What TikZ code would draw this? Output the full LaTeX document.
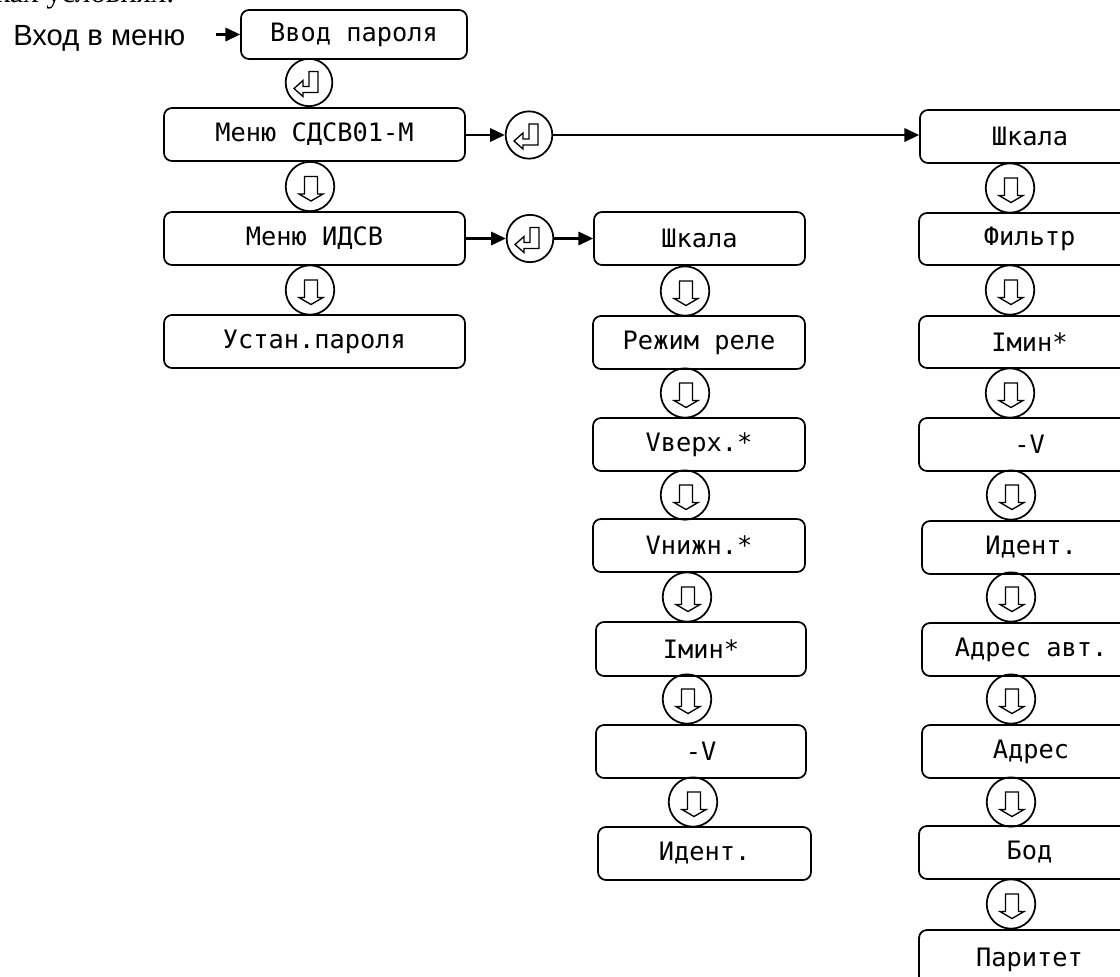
\documentclass[tikz,border=0pt]{standalone}
\usepackage{fontspec}
\setmainfont{Liberation Sans}
\newfontfamily\serifpart{Liberation Serif}
\newfontfamily\monopart{DejaVu Sans Mono}
\usetikzlibrary{arrows.meta, calc, shapes.geometric}

\tikzset{
  menubox/.style={draw, line width=1.3pt, rounded corners=6pt, inner sep=0pt, font=\monopart\fontsize{19}{20}\selectfont},
  keyring/.style={draw, line width=1.3pt, ellipse, minimum width=36.4pt, minimum height=37pt, inner sep=0pt},
  enterring/.style={keyring, minimum width=35pt, minimum height=35.5pt},
  keyicon/.style={line width=1pt, line join=miter},
  flow/.style={-{Triangle[length=11pt,width=10pt]}, line width=1.7pt}
}

% box from its corners in pixels of the sheet
\newcommand{\menuitem}[6]{
  \node[menubox, minimum width=#4*0.75pt-#2*0.75pt, minimum height=#5*0.75pt-#3*0.75pt] (#1) at ({(#2+#4)/2},{(#3+#5)/2}) {#6};
}
% down key: ring with hollow arrow
\newcommand{\downkey}[3]{
  \node[keyring] (#1) at (#2,#3) {};
  \draw[keyicon] ($(#1)+(-5.5,-10)$) -- ($(#1)+(7.5,-10)$) -- ($(#1)+(7.5,7.5)$) -- ($(#1)+(13,7.5)$) -- ($(#1)+(1,14.5)$) -- ($(#1)+(-11,7.5)$) -- ($(#1)+(-5.5,7.5)$) -- cycle;
}
% enter key: ring with hollow bent arrow
\newcommand{\enterkey}[3]{
  \node[enterring] (#1) at (#2,#3) {};
  \draw[keyicon] ($(#1)+(0,-11)$) -- ($(#1)+(9,-11)$) -- ($(#1)+(9,10)$) -- ($(#1)+(-6,10)$) -- ($(#1)+(-6,14)$) -- ($(#1)+(-15,6)$) -- ($(#1)+(-6,-2)$) -- ($(#1)+(-6,4)$) -- ($(#1)+(0,4)$) -- cycle;
}

\begin{document}
\begin{tikzpicture}[x=0.75pt, y=-0.75pt]
  \useasboundingbox (0,0) rectangle (1120,976);

  \node[anchor=base west, inner sep=0pt, font=\serifpart\fontsize{23}{25}\selectfont] (cuttext) at (-5,2) {ках условиях:};
  \node[anchor=west, inner sep=0pt, font=\fontsize{21.9}{24}\selectfont] (entry) at (13,38) {Вход в меню};
  \coordinate (entrystart) at (216,34.5);

  % left column
  \menuitem{pass}{241}{10}{467}{59}{Ввод пароля}
  \menuitem{sdsv}{164}{108}{465}{161}{Меню СДСВ01-М}
  \menuitem{idsv}{164}{212}{465}{265}{Меню ИДСВ}
  \menuitem{setpass}{164}{315}{465}{368}{Устан.пароля}
  \enterkey{kpass}{309}{82.5}
  \downkey{ksdsv}{310}{186.5}
  \downkey{kidsv}{310}{290}

  % middle column
  \menuitem{mscale}{594}{212}{805}{265}{Шкала}
  \menuitem{mrelay}{593}{316}{805}{369}{Режим реле}
  \menuitem{mup}{593}{418}{805}{471}{Vверх.*}
  \menuitem{mlow}{593}{519}{805}{572}{Vнижн.*}
  \menuitem{mimin}{596}{622}{806}{676}{Iмин*}
  \menuitem{mminus}{596}{725}{806}{778}{-V}
  \menuitem{mident}{598}{827}{811}{880}{Идент.}
  \downkey{k1}{685}{291}
  \downkey{k2}{685}{393}
  \downkey{k3}{685}{495}
  \downkey{k4}{687}{597}
  \downkey{k5}{687}{699}
  \downkey{k6}{693}{802}

  % right column
  \menuitem{rscale}{920}{110}{1140}{163}{Шкала}
  \menuitem{rfilter}{919}{213}{1140}{265}{Фильтр}
  \menuitem{rimin}{919}{316}{1140}{368}{Iмин*}
  \menuitem{rminus}{919}{418}{1140}{471}{-V}
  \menuitem{rident}{922}{521}{1140}{574}{Идент.}
  \menuitem{raddra}{922}{623}{1140}{676}{Адрес авт.}
  \menuitem{raddr}{922}{725}{1140}{778}{Адрес}
  \menuitem{rbaud}{919}{826}{1140}{879}{Бод}
  \menuitem{rparity}{919}{930}{1140}{990}{Паритет}
  \downkey{r1}{1010}{188}
  \downkey{r2}{1010}{290}
  \downkey{r3}{1010}{393}
  \downkey{r4}{1011}{495}
  \downkey{r5}{1011}{597}
  \downkey{r6}{1011}{699}
  \downkey{r7}{1011}{802}
  \downkey{r8}{1011}{904}

  \enterkey{ksdsvgo}{529}{135}
  \enterkey{kidsvgo}{530}{238.5}

  \draw[flow] (entrystart) -- (pass.west |- entrystart);
  \draw[flow] (sdsv.east |- ksdsvgo) -- (ksdsvgo);
  \draw[flow] (ksdsvgo) -- (rscale.west |- ksdsvgo);
  \draw[flow] (idsv) -- (kidsvgo);
  \draw[flow] (kidsvgo) -- (mscale);
\end{tikzpicture}
\end{document}
